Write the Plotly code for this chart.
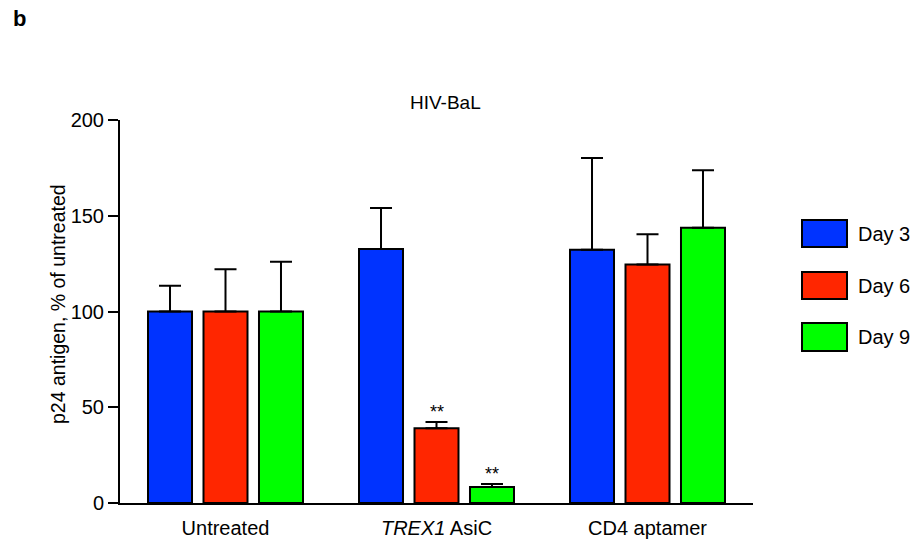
import plotly.graph_objects as go

categories = ["Untreated", "TREX1 AsiC", "CD4 aptamer"]
tick_labels = ["Untreated", "<i>TREX1</i> AsiC", "CD4 aptamer"]
series_names = ["Day 3", "Day 6", "Day 9"]
day3 = [100, 132.6, 132.2]
day6 = [100, 39.0, 124.6]
day9 = [100, 8.4, 143.7]
day3_err = [13.5, 21.5, 48.0]
day6_err = [22.0, 3.3, 15.8]
day9_err = [26.0, 1.5, 30.0]
colors = ["#0033FF", "#FF2600", "#00FF00"]
y_ticks = [0, 50, 100, 150, 200]

FONT = "Liberation Sans, Arial, sans-serif"

fig = go.Figure()
for name, vals, errs, col in zip(series_names, [day3, day6, day9],
                                 [day3_err, day6_err, day9_err], colors):
    fig.add_trace(go.Bar(
        x=categories, y=vals, name=name,
        marker=dict(color=col, line=dict(color="black", width=2)),
        error_y=dict(type="data", array=errs, arrayminus=[0] * len(errs),
                     symmetric=False, color="black", thickness=2, width=11),
        showlegend=False,
    ))

# significance stars
stars = [("TREX1 AsiC", day6[1] + day6_err[1], 0), ("TREX1 AsiC", day9[1] + day9_err[1], 55.5)]
for cat, yv, xs in stars:
    fig.add_annotation(x=cat, y=yv, xref="x", yref="y", text="**", showarrow=False,
                       xshift=xs, yshift=-2, yanchor="bottom",
                       font=dict(family=FONT, size=18, color="black"))

# manual legend
L, R, T, B = 120, 753, 120, 503
def px(x):
    return (x - L) / (R - L)
def py(y):
    return (B - y) / (B - T)

legend_rows = [(220, 247), (272, 299), (323, 351)]
for (y0, y1), name, col in zip(legend_rows, series_names, colors):
    fig.add_shape(type="rect", xref="paper", yref="paper",
                  x0=px(802), x1=px(847), y0=py(y1), y1=py(y0),
                  fillcolor=col, line=dict(color="black", width=2))
    fig.add_annotation(xref="paper", yref="paper", x=px(856), y=py((y0 + y1) / 2),
                       text=name, showarrow=False, xanchor="left", yanchor="middle",
                       font=dict(family=FONT, size=20, color="black"))

fig.add_annotation(xref="paper", yref="paper", x=px(446), y=py(102), text="HIV-BaL",
                   showarrow=False, xanchor="center", yanchor="middle",
                   font=dict(family=FONT, size=19, color="black"))
fig.add_annotation(xref="paper", yref="paper", x=px(11), y=py(19), text="<b>b</b>",
                   showarrow=False, xanchor="left", yanchor="middle",
                   font=dict(family=FONT, size=22, color="black"))
fig.add_annotation(xref="paper", yref="paper", x=px(58), y=py(304),
                   text="p24 antigen, % of untreated", textangle=-90,
                   showarrow=False, xanchor="center", yanchor="middle",
                   font=dict(family=FONT, size=19.5, color="black"))

fig.update_layout(
    width=915, height=546,
    margin=dict(l=L, r=915 - R, t=T, b=546 - B),
    plot_bgcolor="white", paper_bgcolor="white",
    barmode="group", bargap=0.211, bargroupgap=0.207,
    font=dict(family=FONT, size=20, color="black"),
)
fig.update_xaxes(
    range=[-0.5, 2.5], showline=True, linecolor="black", linewidth=2,
    ticks="", tickvals=categories, ticktext=tick_labels, showgrid=False, zeroline=False,
    tickfont=dict(family=FONT, size=20, color="black"), ticklabelstandoff=6,
    automargin=False,
)
fig.update_yaxes(
    range=[0, 200], tickvals=y_ticks, showline=True, linecolor="black", linewidth=2,
    ticks="outside", ticklen=10, tickwidth=2, tickcolor="black",
    showgrid=False, zeroline=False, automargin=False,
    tickfont=dict(family=FONT, size=20, color="black"),
)

fig.write_html("out.html", config={"displayModeBar": False},
               post_script="document.body.style.margin='0';")
